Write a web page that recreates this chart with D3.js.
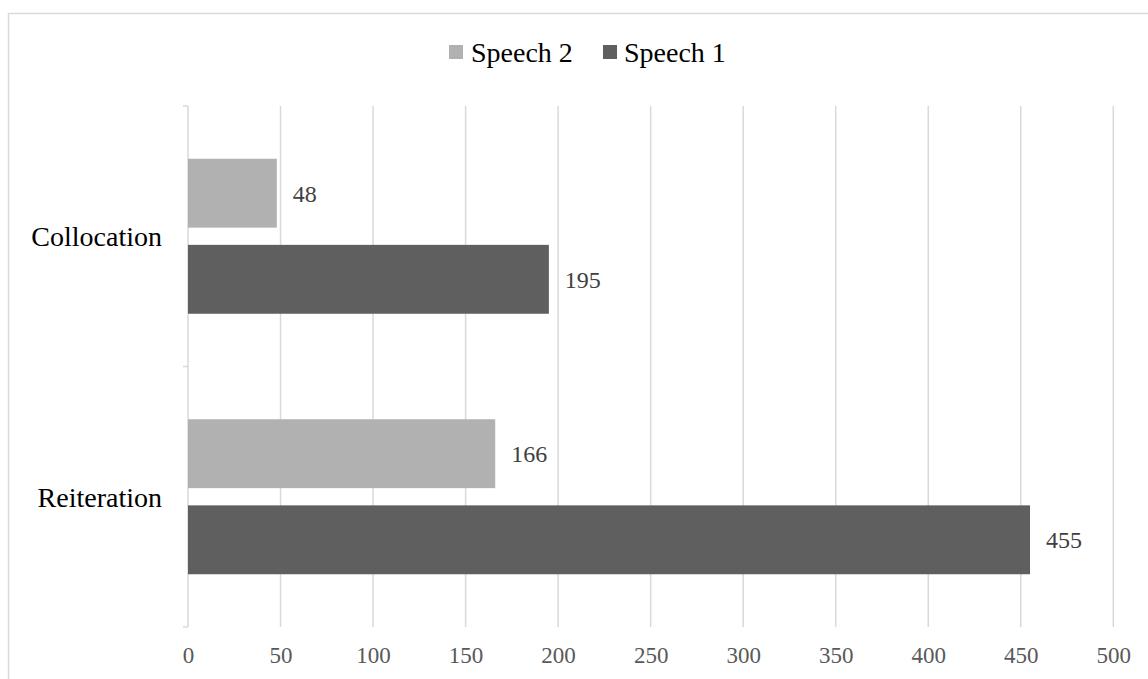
<!DOCTYPE html>
<html>
<head>
<meta charset="utf-8">
<script src="https://cdn.jsdelivr.net/npm/d3@7"></script>
<style>
  html, body { margin: 0; padding: 0; background: #fff; }
  svg text { font-family: "Liberation Serif", "Times New Roman", serif !important; }
</style>
</head>
<body>
<svg id="chart" width="1148" height="679"></svg>
<script>
// Counts of lexical cohesion devices per speech
const categories = ["Collocation", "Reiteration"];
const seriesNames = ["Speech 2", "Speech 1"];
const speech2 = [48, 166];
const speech1 = [195, 455];
const xTicks = [0, 50, 100, 150, 200, 250, 300, 350, 400, 450, 500];
const seriesColors = ["#b1b1b1", "#5f5f5f"];

const rows = categories.map((c, i) => ({
  category: c,
  values: [
    { series: seriesNames[0], value: speech2[i] },
    { series: seriesNames[1], value: speech1[i] }
  ]
}));

const svg = d3.select("#chart");
const W = 1148, H = 679;

// Outer chart frame (right/bottom edges fall outside the view)
svg.append("rect")
  .attr("x", 8.5).attr("y", 13.5)
  .attr("width", W + 20).attr("height", H + 20)
  .attr("fill", "#fff")
  .attr("stroke", "#d9d9d9").attr("stroke-width", 1.5);

const plot = { left: 188, right: 1113.3, top: 106, bottom: 627 };

const x = d3.scaleLinear().domain([0, 500]).range([plot.left, plot.right]);
const y = d3.scaleBand().domain(categories).range([plot.top, plot.bottom]).paddingInner(0).paddingOuter(0);
const bw = y.bandwidth();
const ySub = d3.scaleBand().domain(seriesNames)
  .range([bw * 0.2025, bw * 0.7975]).paddingInner(0.2).paddingOuter(0);
const color = d3.scaleOrdinal().domain(seriesNames).range(seriesColors);

// Vertical gridlines
svg.append("g")
  .selectAll("line")
  .data(xTicks.filter(t => t > 0))
  .join("line")
  .attr("x1", d => x(d)).attr("x2", d => x(d))
  .attr("y1", plot.top).attr("y2", plot.bottom)
  .attr("stroke", "#d9d9d9").attr("stroke-width", 1.5);

// X axis labels (no axis line, only labels)
const xAxis = svg.append("g")
  .attr("transform", `translate(0,${plot.bottom})`)
  .call(d3.axisBottom(x).tickValues(xTicks).tickSize(0).tickPadding(20).tickFormat(d3.format("d")));
xAxis.select(".domain").remove();
xAxis.selectAll("text")
  .attr("font-size", 23)
  .attr("fill", "#595959")
  .attr("dy", "0.71em");

// Y axis: line with outward ticks at category boundaries
const yBounds = [plot.top].concat(categories.map(c => y(c) + bw));
const yAxis = svg.append("g");
yAxis.append("line")
  .attr("x1", x(0)).attr("x2", x(0))
  .attr("y1", plot.top).attr("y2", plot.bottom)
  .attr("stroke", "#d9d9d9").attr("stroke-width", 1.5);
yAxis.selectAll("line.tick")
  .data(yBounds)
  .join("line")
  .attr("class", "tick")
  .attr("x1", x(0) - 5).attr("x2", x(0))
  .attr("y1", d => d).attr("y2", d => d)
  .attr("stroke", "#d9d9d9").attr("stroke-width", 1.5);

// Category labels
svg.append("g")
  .selectAll("text")
  .data(categories)
  .join("text")
  .attr("x", 162)
  .attr("y", d => y(d) + bw / 2)
  .attr("dy", "0.35em")
  .attr("text-anchor", "end")
  .attr("font-size", 28)
  .attr("fill", "#000")
  .text(d => d);

// Bars
const groups = svg.append("g")
  .selectAll("g")
  .data(rows)
  .join("g")
  .attr("transform", d => `translate(0,${y(d.category)})`);

groups.selectAll("rect")
  .data(d => d.values)
  .join("rect")
  .attr("x", x(0))
  .attr("y", d => ySub(d.series))
  .attr("width", d => x(d.value) - x(0))
  .attr("height", ySub.bandwidth())
  .attr("fill", d => color(d.series));

// Value labels
groups.selectAll("text")
  .data(d => d.values)
  .join("text")
  .attr("x", d => x(d.value) + 16)
  .attr("y", d => ySub(d.series) + ySub.bandwidth() / 2)
  .attr("dy", "0.35em")
  .attr("font-size", 24)
  .attr("fill", "#404040")
  .text(d => d.value);

// Legend
const legendItems = [
  { name: seriesNames[0], sx: 449, tx: 471 },
  { name: seriesNames[1], sx: 603, tx: 624 }
];
const legend = svg.append("g");
legend.selectAll("rect")
  .data(legendItems)
  .join("rect")
  .attr("x", d => d.sx).attr("y", 45)
  .attr("width", 14).attr("height", 14)
  .attr("fill", d => color(d.name));
legend.selectAll("text")
  .data(legendItems)
  .join("text")
  .attr("x", d => d.tx).attr("y", 52)
  .attr("dy", "0.35em")
  .attr("font-size", 28)
  .attr("fill", "#000")
  .text(d => d.name);
</script>
</body>
</html>
